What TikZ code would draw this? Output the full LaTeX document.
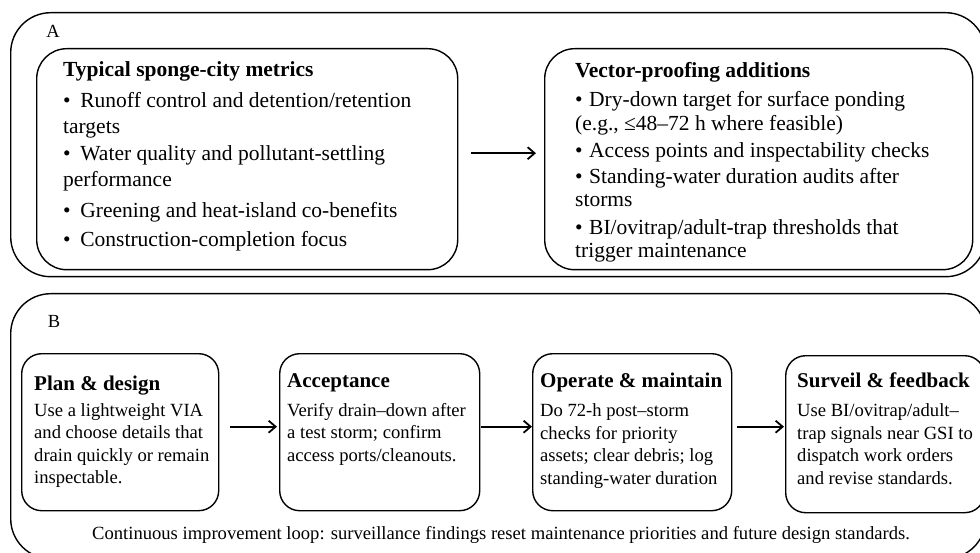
\documentclass[tikz,border=0pt]{standalone}
\usepackage{fontspec}
\setmainfont{Liberation Serif}
\usetikzlibrary{arrows.meta,positioning}

\begin{document}
\begin{tikzpicture}[x=1pt,y=-1pt,>={Straight Barb[length=7pt,width=12pt]},
  panel/.style={draw,line width=1.4pt,rounded corners=40pt,anchor=north west,inner sep=0pt},
  metricbox/.style={draw,line width=1.4pt,rounded corners=30pt,anchor=north west,inner sep=0pt,
    minimum height=221pt},
  stagebox/.style={draw,line width=1.4pt,rounded corners=20pt,anchor=north west,inner sep=0pt,
    minimum width=199pt,minimum height=157pt},
  toptext/.style={align=left,inner sep=0pt,font=\fontsize{21.5}{25.5}\selectfont},
  stagetext/.style={align=left,inner sep=0pt,font=\fontsize{18.6}{22.5}\selectfont},
  tag/.style={font=\fontsize{18.5}{22}\selectfont},
  flow/.style={->,line width=1.8pt}]
  \useasboundingbox (0,0) rectangle (980,553);
  \clip (0,0) rectangle (980,553);

  % panel A: metrics
  \node[panel,minimum width=975pt,minimum height=264pt] (panelA) at (10,12) {};
  \node[tag] (tagA) at (53,31) {A};
  \node[metricbox,minimum width=421pt] (metrics) at (36,48) {};
  \node[metricbox,minimum width=428pt] (vector) at (544,48) {};
  \node[toptext,below right=13pt and 27pt of metrics.north west] (metricslist) {%
    {\bfseries Typical sponge-city metrics}\\[6pt]
    \textbullet\hspace{0.45em}Runoff control and detention/retention\\
    targets\\[2pt]
    \textbullet\hspace{0.45em}Water quality and pollutant-settling\\
    performance\\[6pt]
    \textbullet\hspace{0.45em}Greening and heat-island co-benefits\\[3pt]
    \textbullet\hspace{0.45em}Construction-completion focus};
  \node[toptext,font=\fontsize{21.5}{23.5}\selectfont,
    below right=14pt and 31pt of vector.north west] (vectorlist) {%
    {\bfseries Vector-proofing additions}\\[6pt]
    \textbullet\hspace{0.3em}Dry-down target for surface ponding\\
    (e.g., ≤48–72 h where feasible)\\[4pt]
    \textbullet\hspace{0.3em}Access points and inspectability checks\\[2pt]
    \textbullet\hspace{0.3em}Standing-water duration audits after\\
    storms\\[4pt]
    \textbullet\hspace{0.3em}BI/ovitrap/adult-trap thresholds that\\
    trigger maintenance};
  \draw[flow,shorten <=13pt,shorten >=8pt] ([yshift=6pt]metrics.east) -- ([yshift=6pt]vector.west);

  % panel B: stages
  \node[panel,minimum width=975pt,minimum height=265pt] (panelB) at (10,293) {};
  \node[tag] (tagB) at (54,321) {B};
  \node[stagebox,minimum width=197pt] (plan) at (21,353) {};
  \node[stagebox,minimum width=200pt] (accept) at (279,353) {};
  \node[stagebox] (operate) at (532,353) {};
  \node[stagebox] (surveil) at (785,355) {};
  \node[stagetext,below right=23pt and 13pt of plan.north west] (plantext) {%
    {\fontsize{21}{25}\bfseries Plan \& design}\\[3pt]
    Use a lightweight VIA\\
    and choose details that\\
    drain quickly or remain\\
    inspectable.};
  \node[stagetext,below right=20pt and 8pt of accept.north west] (accepttext) {%
    {\fontsize{21}{25}\bfseries Acceptance}\\[6.5pt]
    Verify drain–down after\\
    a test storm; confirm\\
    access ports/cleanouts.};
  \node[stagetext,below right=20pt and 8pt of operate.north west] (operatetext) {%
    {\fontsize{21}{25}\bfseries Operate \& maintain}\\[6.5pt]
    Do 72-h post–storm\\
    checks for priority\\
    assets; clear debris; log\\
    standing-water duration};
  \node[stagetext,below right=18pt and 12pt of surveil.north west] (surveiltext) {%
    {\fontsize{21}{25}\bfseries Surveil \& feedback}\\[6.5pt]
    Use BI/ovitrap/adult–\\
    trap signals near GSI to\\
    dispatch work orders\\
    and revise standards.};
  \draw[flow,shorten <=11pt,shorten >=2pt] ([yshift=5.5pt]plan.east) -- ([yshift=5.5pt]accept.west);
  \draw[flow,shorten <=1pt] ([yshift=5.5pt]accept.east) -- ([yshift=5.5pt]operate.west);
  \draw[flow,shorten <=5pt,shorten >=1pt] ([yshift=5.5pt]operate.east) -- ([yshift=7.5pt]surveil.west);
  \node[stagetext] (loopnote) at (501,535) {Continuous improvement loop: surveillance findings reset maintenance priorities and future design standards.};
\end{tikzpicture}
\end{document}
